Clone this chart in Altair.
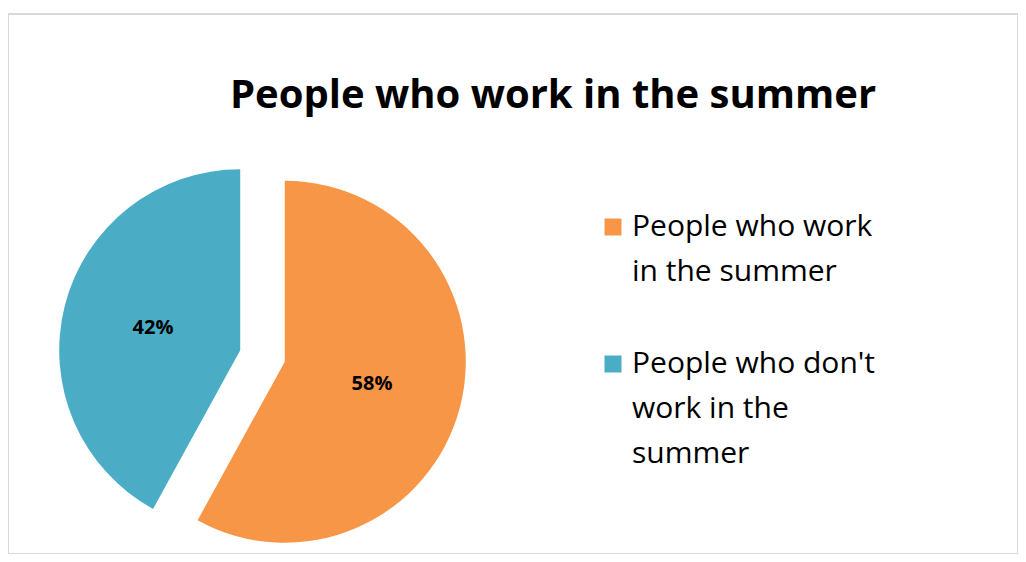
import math
import json
import altair as alt
import pandas as pd

# ---- data ----
categories = ["People who work in the summer", "People who don't work in the summer"]
values = [58, 42]
legend_lines = [["People who work", "in the summer"], ["People who don't", "work in the", "summer"]]
colors = ["#F79646", "#4BACC6"]
title_text = "People who work in the summer"

# ---- style ----
FONT = "Open Sans"
W, H = 1010, 540
CX, CY = 254.5, 342
R = 181
LABEL_R = 90
EXPLODE = 23

total = sum(values)
rows = []
cum = 0
for c, v in zip(categories, values):
    rows.append(dict(category=c, value=v, start=cum / total, end=(cum + v) / total,
                     mid=(cum + v / 2) / total, label=f"{v}%"))
    cum += v
df = pd.DataFrame(rows)

theta_scale = alt.Scale(domain=[0, 1], range=[0, 2 * math.pi])

expr = ""
for c, lines in zip(categories[:-1], legend_lines[:-1]):
    expr += f"datum.value == {json.dumps(c)} ? {json.dumps(lines)} : "
expr += json.dumps(legend_lines[-1])

color_enc = alt.Color(
    "category:N",
    scale=alt.Scale(domain=categories, range=colors),
    legend=alt.Legend(
        title=None, orient="none", legendX=590, legendY=198,
        symbolType="square", symbolSize=289, symbolStrokeWidth=0, symbolOpacity=1,
        labelFont=FONT, labelFontSize=30, labelColor="black", labelOffset=4,
        labelLimit=0, labelBaseline="middle", rowPadding=62, padding=0,
        labelExpr=expr,
    ),
)

base = alt.Chart(df)
layers = []
for i, row in df.iterrows():
    ang = 2 * math.pi * row["mid"]
    dx = EXPLODE * math.sin(ang)
    dy = -EXPLODE * math.cos(ang)
    sub = base.transform_filter(alt.datum.category == row["category"])
    arc = sub.mark_arc(x=CX, y=CY, xOffset=dx, yOffset=dy, outerRadius=R).encode(
        theta=alt.Theta("start:Q", scale=theta_scale),
        theta2="end:Q",
        color=color_enc,
    )
    txt = sub.mark_text(x=CX, y=CY, xOffset=dx, yOffset=dy, radius=LABEL_R,
                        font=FONT, fontSize=20, fontWeight="bold", color="black").encode(
        theta=alt.Theta("mid:Q", scale=theta_scale),
        text="label:N",
    )
    layers += [arc, txt]

chart = alt.layer(*layers).properties(
    width=W, height=H,
    title=alt.Title(title_text, font=FONT, fontSize=40, fontWeight="bold", color="black",
                    anchor="middle", dx=40, offset=-134, baseline="alphabetic"),
    autosize=alt.AutoSizeParams(type="none"),
    padding={"left": 0, "top": 6, "right": 0, "bottom": 0},
    view=alt.ViewBackground(stroke="#D9D9D9", strokeWidth=2, fill="white"),
).configure(
    style={"guide-label": {"lineHeight": 45}},
    view=alt.ViewConfig(stroke="#D9D9D9", strokeWidth=2),
)

chart.save("out.html", embed_options={"renderer": "svg", "actions": False})
